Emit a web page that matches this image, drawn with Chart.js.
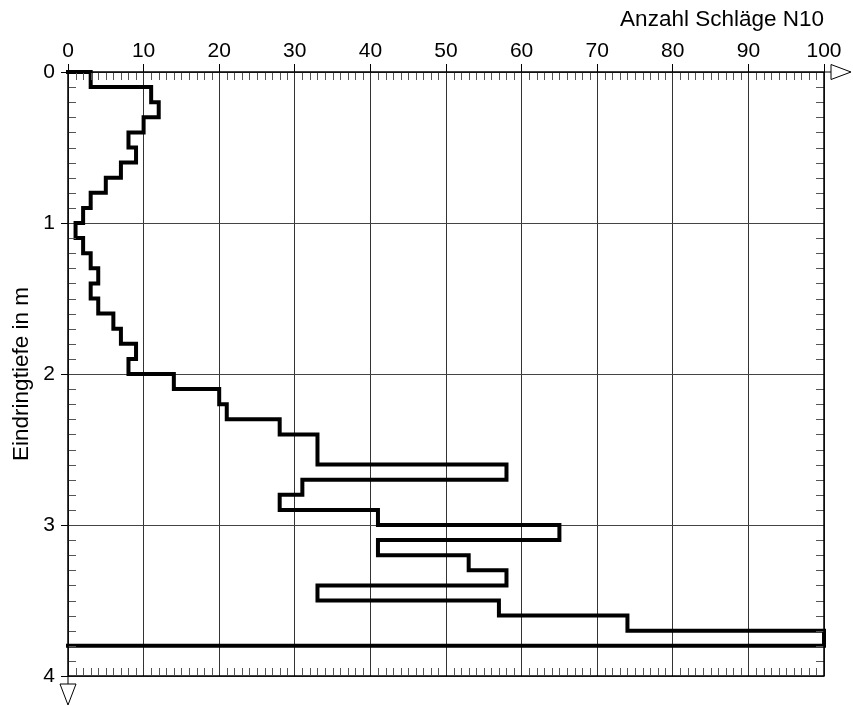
<!DOCTYPE html>
<html>
<head>
<meta charset="utf-8">
<script src="https://cdn.jsdelivr.net/npm/chart.js@4"></script>
<style>
  html, body { margin: 0; padding: 0; background: #fff; }
  #wrap { width: 853px; height: 706px; }
</style>
</head>
<body>
<div id="wrap"><canvas id="c" width="853" height="706"></canvas></div>
<script>
// Depth boundaries of each 10 cm interval (m)
const depthBounds = [0.0,0.1,0.2,0.3,0.4,0.5,0.6,0.7,0.8,0.9,
                     1.0,1.1,1.2,1.3,1.4,1.5,1.6,1.7,1.8,1.9,
                     2.0,2.1,2.2,2.3,2.4,2.5,2.6,2.7,2.8,2.9,
                     3.0,3.1,3.2,3.3,3.4,3.5,3.6,3.7,3.8];
// Blow counts N10 per interval
const blows = [3,11,12,10,8,9,7,5,3,2,
               1,2,3,4,3,4,6,7,9,8,
               14,20,21,28,33,33,58,31,28,41,
               65,41,53,58,33,57,74,100];
const xTicks = [0,10,20,30,40,50,60,70,80,90,100];
const yTicks = [0,1,2,3,4];
const xTitle = 'Anzahl Schläge N10';
const yTitle = 'Eindringtiefe in m';

// Step profile points
const pts = [{x: 0, y: depthBounds[0]}];
blows.forEach((n, i) => {
  pts.push({x: n, y: depthBounds[i]});
  pts.push({x: n, y: depthBounds[i + 1]});
});
pts.push({x: 0, y: depthBounds[depthBounds.length - 1]});

const FONT = "'Liberation Sans', Arial, sans-serif";

const framePlugin = {
  id: 'frame',
  afterDatasetsDraw(chart) {
    const {ctx, chartArea: a, scales: {x, y}} = chart;
    ctx.save();
    // minor ticks
    ctx.strokeStyle = '#555';
    ctx.lineWidth = 1;
    ctx.beginPath();
    for (let v = 1; v < 100; v++) {
      if (v % 10 === 0) continue;
      const px = Math.round(x.getPixelForValue(v)) + 0.5;
      ctx.moveTo(px, a.top + 1); ctx.lineTo(px, a.top + 8);
      ctx.moveTo(px, a.bottom - 1); ctx.lineTo(px, a.bottom - 8);
    }
    for (let k = 1; k < 40; k++) {
      if (k % 10 === 0) continue;
      const py = Math.round(y.getPixelForValue(k / 10)) + 0.5;
      ctx.moveTo(a.left, py); ctx.lineTo(a.left + 8, py);
      ctx.moveTo(a.right, py); ctx.lineTo(a.right - 8, py);
    }
    ctx.stroke();
    // frame
    ctx.strokeStyle = '#000';
    ctx.lineWidth = 1.5;
    ctx.strokeRect(a.left, a.top, a.right - a.left, a.bottom - a.top);
    // arrows
    ctx.lineWidth = 1;
    ctx.beginPath();
    ctx.moveTo(a.right, a.top); ctx.lineTo(a.right + 7, a.top);
    ctx.moveTo(a.left, a.bottom); ctx.lineTo(a.left, a.bottom + 8);
    ctx.stroke();
    ctx.beginPath();
    ctx.moveTo(a.right + 7, a.top - 7.5);
    ctx.lineTo(a.right + 27, a.top);
    ctx.lineTo(a.right + 7, a.top + 7.5);
    ctx.closePath();
    ctx.stroke();
    ctx.beginPath();
    ctx.moveTo(a.left - 8, a.bottom + 8);
    ctx.lineTo(a.left + 8, a.bottom + 8);
    ctx.lineTo(a.left, a.bottom + 29);
    ctx.closePath();
    ctx.stroke();
    ctx.restore();
  }
};

new Chart(document.getElementById('c'), {
  type: 'scatter',
  data: {
    datasets: [{
      data: pts,
      showLine: true,
      borderColor: '#000',
      borderWidth: 4,
      borderJoinStyle: 'miter',
      borderCapStyle: 'square',
      pointRadius: 0,
      tension: 0,
      clip: false
    }]
  },
  options: {
    responsive: false,
    animation: false,
    layout: { padding: { left: 0, top: 0, right: 29, bottom: 30 } },
    plugins: { legend: { display: false }, tooltip: { enabled: false } },
    scales: {
      x: {
        type: 'linear',
        position: 'top',
        min: 0, max: 100,
        afterBuildTicks(s) { s.ticks = xTicks.map(v => ({value: v})); },
        afterFit(s) { s.height = 72; },
        ticks: { color: '#000', font: { family: FONT, size: 21 }, padding: 0, maxRotation: 0 },
        grid: { color: '#333', lineWidth: 1, tickLength: 8, tickColor: '#000' },
        border: { display: false },
        title: { display: true, text: xTitle, align: 'end', color: '#000',
                 font: { family: FONT, size: 22.5 }, padding: { top: 6, bottom: 0 } }
      },
      y: {
        type: 'linear',
        reverse: true,
        min: 0, max: 4,
        afterBuildTicks(s) { s.ticks = yTicks.map(v => ({value: v})); },
        afterFit(s) { s.width = 68; },
        ticks: { color: '#000', font: { family: FONT, size: 21 }, padding: 6 },
        grid: { color: '#444', lineWidth: 1, tickLength: 7, tickColor: '#000' },
        border: { display: false },
        title: { display: true, text: yTitle, color: '#000',
                 font: { family: FONT, size: 22.5 }, padding: { top: 8, bottom: 0 } }
      }
    }
  },
  plugins: [framePlugin]
});
</script>
</body>
</html>
